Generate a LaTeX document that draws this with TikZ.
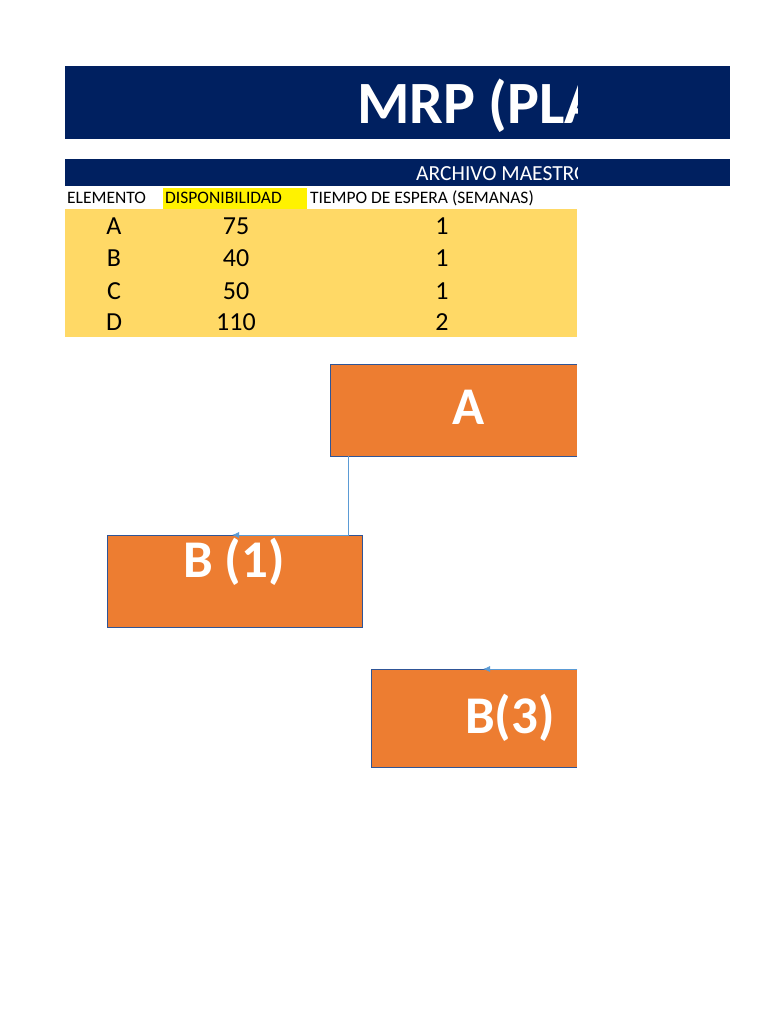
\documentclass[tikz,border=0pt]{standalone}
\usepackage{fontspec}
\setmainfont{Carlito}
\usetikzlibrary{arrows.meta}
\definecolor{navy}{HTML}{002060}
\definecolor{tabyel}{HTML}{FFD966}
\definecolor{orng}{HTML}{ED7D31}
\definecolor{edge}{HTML}{2F5597}
\definecolor{conn}{HTML}{5B9BD5}
\tikzset{
 box/.style={draw=edge,fill=orng,line width=1pt},
 big/.style={text=white,font=\bfseries\fontsize{53}{55}\selectfont,inner sep=0},
 cell/.style={font=\fontsize{26}{27}\selectfont,inner sep=0},
 hdr/.style={font=\fontsize{17.5}{18}\selectfont,inner sep=0,anchor=west},
 conline/.style={draw=conn,line width=0.8pt,-{Latex[length=7pt,width=6pt]}}
}
\begin{document}
\begin{tikzpicture}[x=1pt,y=-1pt]
\useasboundingbox (0,0) rectangle (768,1024);
\fill[navy] (65,66) rectangle (730,139);
\fill[navy] (65,159) rectangle (730,186);
\fill[yellow] (163,188) rectangle (307,209);
\fill[tabyel] (65,209) rectangle (577,337);
\begin{scope}
\clip (0,0) rectangle (577,1024);
\node[anchor=west,text=white,font=\bfseries\fontsize{60}{62}\selectfont,inner sep=0] (title) at (357,103) {MRP (PLANIFICACIÓN};
\node[anchor=west,text=white,font=\fontsize{21.5}{23}\selectfont,inner sep=0] (arch) at (416,174) {ARCHIVO MAESTRO};
\draw[box] (577,364) -- (330,364) -- (330,456) -- (577,456);
\node[big] (A) at (469,407) {A};
\draw[box] (577,669) -- (371,669) -- (371,767) -- (577,767);
\node[big] (B3) at (510,718) {B(3)};
\coordinate (b3in) at (577,669);
\coordinate (b3tip) at (483,669);
\end{scope}
\node[hdr] (h1) at (67,198) {ELEMENTO};
\node[hdr] (h2) at (165,198) {DISPONIBILIDAD};
\node[hdr] (h3) at (310,198) {TIEMPO DE ESPERA (SEMANAS)};
\foreach \e/\d/\t/\y in {A/75/1/226,B/40/1/258,C/50/1/291,D/110/2/322}{
 \node[cell] (e\e) at (114,\y) {\e};
 \node[cell] (d\e) at (236,\y) {\d};
 \node[cell] (t\e) at (442,\y) {\t};
}
\node[box,minimum width=255pt,minimum height=92pt,inner sep=0] (B1) at (234.5,581) {};
\node[big] (B1t) at (234,562) {B (1)};
\coordinate (aout) at (348,456);
\coordinate (turn) at (348,535);
\coordinate (b1tip) at (232,535);
\draw[conline] (aout) -- (turn) -- (b1tip);
\draw[conline] (b3in) -- (b3tip);
\end{tikzpicture}
\end{document}
